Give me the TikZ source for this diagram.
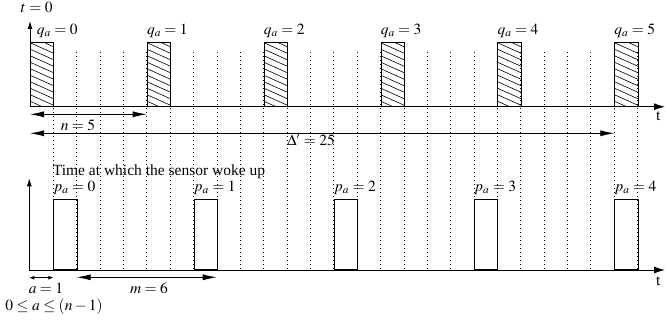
\documentclass[tikz,border=0pt]{standalone}
\usepackage{mathptmx}
\usepackage{fontspec}
\setmainfont{Liberation Serif}
\usetikzlibrary{arrows.meta,calc}
\tikzset{
  lbl/.style={inner sep=0pt, font=\fontsize{15.5}{18}\selectfont},
  axisline/.style={line width=0.9pt},
  guide/.style={line width=0.8pt, dash pattern=on 1pt off 3pt},
  hbox/.style={draw, line width=0.9pt, inner sep=0pt, minimum width=23.37pt, minimum height=63.4pt, anchor=south west,
    path picture={\foreach \i in {-4,...,11}{\draw[line width=0.6pt] ([yshift={-\i*6.5pt}]path picture bounding box.north west) -- ++(23.37,10.5);}}},
  wbox/.style={draw, line width=0.9pt, inner sep=0pt, minimum width=23.37pt, minimum height=70pt, anchor=south west},
  dimbig/.style={line width=0.8pt, {Latex[length=14pt,width=6pt]}-{Latex[length=14pt,width=6pt]}},
  dimsmall/.style={line width=0.8pt, {Latex[length=5pt,width=4pt]}-{Latex[length=5pt,width=4pt]}},
}
\begin{document}
\begin{tikzpicture}[x=1pt,y=-1pt]
\useasboundingbox (0,0) rectangle (666,321);
% dotted guides
\foreach \k in {1,...,26}{
  \coordinate (gt\k) at ({30+\k*23.37},52);
  \coordinate (gb\k) at ({30+\k*23.37},270);
  \draw[guide] (gt\k) -- (gb\k);
}
% top axes
\coordinate (O1) at (30,106.7);
\coordinate (Y1) at (30,21);
\coordinate (X1) at (665,106.7);
\draw[axisline,-{Latex[length=8pt,width=5pt]}] (O1) -- (Y1);
\draw[axisline,-{Latex[length=11pt,width=7pt]}] (O1) -- (X1);
\node[lbl, anchor=base] (t0) at (36.7,12.5) {$t=0$};
\node[lbl, anchor=base] (tt) at (658.3,120.7) {t};
% hatched boxes
\foreach \k in {0,...,5}{
  \node[hbox] (q\k) at ({30+5*\k*23.37},106.7) {};
}
\node[lbl, anchor=base west] (lq0) at ($(q0.north west)+(6.7,-7.8)$) {$q_a=0$};
\foreach \k in {1,...,5}{
  \node[lbl, anchor=base west] (lq\k) at ($(q\k.north west)+(0,-7.8)$) {$q_a=\k$};
}
% n and Delta
\coordinate (nL) at (30,114.3);
\coordinate (nR) at (146.7,114.3);
\draw[dimbig] (nL) -- (nR);
\node[lbl, anchor=base] (nlab) at (78,130.5) {$n=5$};
\coordinate (dL) at (30,133.3);
\coordinate (dR) at (614.3,133.3);
\draw[dimbig] (dL) -- (dR);
\node[lbl, anchor=base] (dlab) at (311,145) {$\Delta'=25$};
% bottom
\node[lbl, anchor=base] (wake) at (159,175.7) {Time at which the sensor woke up};
\coordinate (O2) at (29.3,270);
\coordinate (Y2) at (29.3,178.3);
\coordinate (X2) at (665,270);
\draw[axisline,-{Latex[length=8pt,width=5pt]}] (O2) -- (Y2);
\draw[axisline,-{Latex[length=11pt,width=7pt]}] (O2) -- (X2);
\node[lbl, anchor=base] (tb) at (658.3,285) {t};
\foreach \j in {0,...,4}{
  \node[wbox] (p\j) at ({30+(1+6*\j)*23.37},270) {};
  \node[lbl, anchor=base west] (lp\j) at ($(p\j.north west)+(0,-7.7)$) {$p_a=\j$};
}
\coordinate (aL) at (29.3,277.7);
\coordinate (aR) at (53.4,277.7);
\draw[dimsmall] (aL) -- (aR);
\node[lbl, anchor=base] (alab) at (46,293) {$a=1$};
\node[lbl, anchor=base] (arange) at (54,310) {$0\leq a\leq (n-1)$};
\coordinate (mL) at (76.7,277.3);
\coordinate (mR) at (216.7,277.3);
\draw[dimbig] (mL) -- (mR);
\node[lbl, anchor=base] (mlab) at (149,293.3) {$m=6$};
\end{tikzpicture}
\end{document}
